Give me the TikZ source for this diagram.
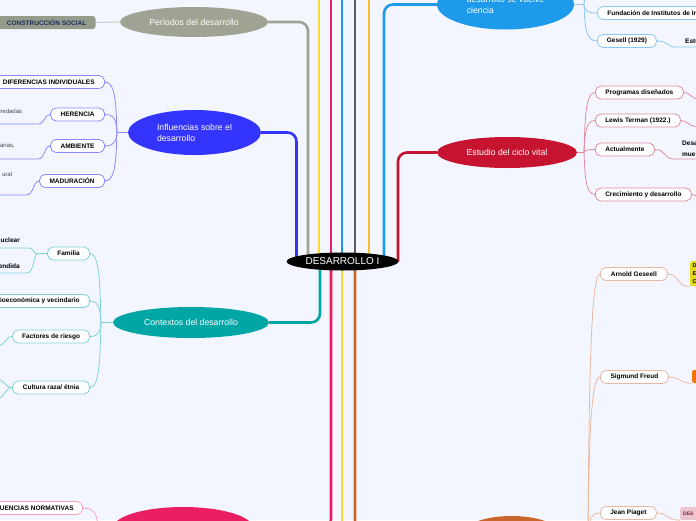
\documentclass[tikz,border=0pt]{standalone}
\usepackage{fontspec}
\setmainfont{Liberation Sans}
\usetikzlibrary{shapes.geometric,backgrounds}
\definecolor{bgc}{HTML}{F3F6FE}
\definecolor{cPer}{HTML}{9EA393}
\definecolor{cInf}{HTML}{3434FF}
\definecolor{cCon}{HTML}{00A6A6}
\definecolor{cEst}{HTML}{C6132F}
\definecolor{cTop}{HTML}{1D9BEA}
\definecolor{cPink}{HTML}{E91E63}
\definecolor{cBrown}{HTML}{C8662C}
\definecolor{cYel}{HTML}{FDD535}
\definecolor{cBlue}{HTML}{2196F3}
\definecolor{cDark}{HTML}{595E62}
\definecolor{cAmber}{HTML}{FBBD2E}
\definecolor{lInf}{HTML}{8A8AFF}
\definecolor{lCon}{HTML}{80D2D8}
\definecolor{lEst}{HTML}{E28CA0}
\definecolor{lTop}{HTML}{8CC8F2}
\definecolor{lBrown}{HTML}{E8B9A2}
\definecolor{lPink}{HTML}{F5A3C7}
\definecolor{lPer}{HTML}{C8CCC2}
\definecolor{cCons}{HTML}{959C8B}
\definecolor{tCons}{HTML}{1B2D5B}
\definecolor{cYbox}{HTML}{E3DC1E}
\definecolor{cObox}{HTML}{EF7300}
\definecolor{cDbox}{HTML}{EBC6CF}
\definecolor{tDbox}{HTML}{7A1E38}
\definecolor{tSub}{HTML}{444444}
\begin{document}
\begin{tikzpicture}[x=1pt,y=-1pt,
  ell/.style={ellipse, inner sep=0pt, text=white, font=\fontsize{8.7}{11}\selectfont},
  mbox/.style={draw, rounded corners=5.5pt, fill=white, line width=0.8pt, minimum height=13pt, inner xsep=9pt, inner ysep=0pt, font=\bfseries\fontsize{6.5}{7.5}\selectfont, text=black},
  trunk/.style={line width=2.6pt, rounded corners=9pt},
  link/.style={line width=0.8pt},
  subtxt/.style={inner sep=0pt, font=\fontsize{6}{7}\selectfont, text=tSub},
  boldtxt/.style={inner sep=0pt, font=\bfseries\fontsize{6.5}{10.5}\selectfont, text=black, align=left},
]
\useasboundingbox (0,0) rectangle (696,520);

% central
\node[ell, fill=black, minimum width=112pt, minimum height=18pt, font=\fontsize{10}{12}\selectfont] (c) at (342.5,261.5) {DESARROLLO I};

% Periodos
\node[ell, fill=cPer, minimum width=148pt, minimum height=30pt] (per) at (194,22) {Períodos del desarrollo};
\node[mbox, draw=none, fill=cCons, text=tCons, rounded corners=3pt, anchor=east, minimum width=98pt] (cons) at (96,22.5) {CONSTRUCCIÓN SOCIAL};

% Influencias
\node[ell, fill=cInf, minimum width=133pt, minimum height=45pt, align=left] (inf) at (194.5,132.5) {Influencias sobre el\\desarrollo};
\node[mbox, draw=lInf, anchor=east, inner xsep=10pt] (dif) at (105,82) {DIFERENCIAS INDIVIDUALES};
\node[mbox, draw=lInf, anchor=east, minimum width=54pt] (her) at (105,114.5) {HERENCIA};
\node[mbox, draw=lInf, anchor=east, minimum width=54pt] (amb) at (105,146) {AMBIENTE};
\node[mbox, draw=lInf, anchor=east, minimum width=65pt] (mad) at (105,181) {MADURACIÓN};
\node[subtxt, anchor=east] (her1) at (22.3,111) {redadas};
\node[subtxt, anchor=east] (amb1) at (15,146) {arias,};
\node[subtxt, anchor=east] (mad1) at (12.3,174) {ural};

% Contextos
\node[ell, fill=cCon, minimum width=156pt, minimum height=31pt] (con) at (191,322.5) {Contextos del desarrollo};
\node[mbox, draw=lCon, anchor=east, minimum width=42pt] (fam) at (90,253.5) {Familia};
\node[mbox, draw=lCon, anchor=east, inner xsep=10pt] (soc) at (90,301) {ioeconómica y vecindario};
\node[mbox, draw=lCon, anchor=east, minimum width=77pt] (fac) at (90,336.5) {Factores de riesgo};
\node[mbox, draw=lCon, anchor=east, minimum width=77pt] (cul) at (90,387.5) {Cultura raza/ étnia};
\node[boldtxt, anchor=east] (fam1) at (20,240) {uclear};
\node[boldtxt, anchor=east] (fam2) at (20,266.5) {endida};

% Estudio
\node[ell, fill=cEst, minimum width=140pt, minimum height=31pt] (est) at (507,152.5) {Estudio del ciclo vital};
\node[mbox, draw=lEst, anchor=west, minimum width=88pt] (prog) at (595,92.5) {Programas diseñados};
\node[mbox, draw=lEst, anchor=west, minimum width=85pt] (lew) at (595,120.5) {Lewis Terman (1922.)};
\node[mbox, draw=lEst, anchor=west, minimum width=59pt] (act) at (595,149.5) {Actualmente};
\node[mbox, draw=lEst, anchor=west, minimum width=96pt] (cre) at (595,194.5) {Crecimiento y desarrollo};
\node[boldtxt, anchor=west] (act1) at (682,149) {Desa\\mue};

% top blue
\node[ell, fill=cTop, minimum width=137pt, minimum height=50pt, align=left] (tb) at (505.5,4.5) {desarrollo se vuelve\\ciencia};
\node[mbox, draw=lTop, anchor=west, inner xsep=10pt] (fund) at (597,13) {Fundación de Institutos de In};
\node[mbox, draw=lTop, anchor=west, minimum width=59pt] (ges) at (597,41) {Gesell (1929)};
\node[boldtxt, anchor=west] (ges1) at (685,41) {Estu};

% brown
\node[ell, fill=cBrown, minimum width=97pt, minimum height=36pt] (br) at (511.5,534) {};
\node[mbox, draw=lBrown, anchor=west, minimum width=67pt] (arn) at (600,274) {Arnold Geseell};
\node[mbox, draw=lBrown, anchor=west, minimum width=68pt] (fre) at (600,377) {Sigmund Freud};
\node[mbox, draw=lBrown, anchor=west, minimum width=56pt] (pia) at (600,513) {Jean Piaget};
\node[fill=cYbox, rounded corners=2pt, anchor=north west, text width=30pt, align=left, inner sep=2.5pt, font=\bfseries\fontsize{5.5}{8}\selectfont] (ybox) at (690,261) {D\\E\\C};
\node[fill=cObox, rounded corners=2pt, anchor=west, minimum width=30pt, minimum height=13pt] (obox) at (692,376.5) {};
\node[fill=cDbox, rounded corners=2pt, anchor=west, text width=24pt, align=left, inner xsep=3pt, minimum height=13pt, font=\bfseries\fontsize{5}{6}\selectfont, text=tDbox] (dbox) at (680,513.5) {DES};

% pink
\node[ell, fill=cPink, minimum width=140pt, minimum height=42pt] (pk) at (183,528) {};
\node[mbox, draw=lPink, anchor=east, inner xsep=9pt] (nor) at (83,508) {UENCIAS NORMATIVAS};

% free ends
\coordinate (tY) at (319,-10);
\coordinate (tP) at (331,-10);
\coordinate (tB) at (342,-10);
\coordinate (tD) at (355,-10);
\coordinate (tA) at (369,-10);
\coordinate (bY) at (342,540);
\coordinate (infT) at (117,132.5);
\coordinate (her1u) at (38,124);
\coordinate (her1e) at (-5,124);
\coordinate (amb1u) at (38,159);
\coordinate (amb1e) at (-5,159);
\coordinate (mad1u) at (26,195);
\coordinate (mad1e) at (-5,195);
\coordinate (conT) at (101,322.5);
\coordinate (famJ) at (37,253.5);
\coordinate (fam1u) at (29,248);
\coordinate (fam1e) at (-5,248);
\coordinate (fam2u) at (27,273);
\coordinate (fam2e) at (-5,273);
\coordinate (fac1) at (-2,346);
\coordinate (cul1) at (-2,379);
\coordinate (cul2) at (-2,399);
\coordinate (estT) at (584,152.5);
\coordinate (prog1) at (700,99);
\coordinate (lew1) at (700,127);
\coordinate (act1u) at (674,159);
\coordinate (act1e) at (700,159);
\coordinate (cre1) at (702,201);
\coordinate (tbT) at (584,4.5);
\coordinate (tbup) at (598,-14);
\coordinate (ges1u) at (676,47);
\coordinate (ges1e) at (700,47);
\coordinate (brT) at (588,534);
\coordinate (pkT) at (98,528);

\begin{scope}[on background layer]
\fill[bgc] (0,0) rectangle (696,520);
% trunks
\draw[trunk, cInf] (inf.east) -| ([xshift=-46pt]c.center);
\draw[trunk, cPer] (per.east) -| ([xshift=-34.5pt]c.center);
\draw[trunk, cYel] (tY) -- ([xshift=-23.5pt]c.center);
\draw[trunk, cPink] (tP) -- ([xshift=-11.5pt]c.center);
\draw[trunk, cBlue] (tB) -- ([xshift=-0.5pt]c.center);
\draw[trunk, cDark] (tD) -- ([xshift=12.5pt]c.center);
\draw[trunk, cAmber] (tA) -- ([xshift=26.5pt]c.center);
\draw[trunk, cTop] (tb.west) -| ([xshift=41.5pt]c.center);
\draw[trunk, cEst] (est.west) -| ([xshift=55.5pt]c.center);
\draw[trunk, cCon] (con.east) -| ([xshift=-22.5pt]c.center);
\draw[trunk, cPink] (pk.east) -| ([xshift=-11.5pt]c.center);
\draw[trunk, cYel] (bY) -- ([xshift=-0.5pt]c.center);
\draw[trunk, cBrown] (br.west) -| ([xshift=12.5pt]c.center);
% periodos
\draw[link, lPer, line width=1pt] (per.west) -- (cons.east);
% influencias
\draw[link, lInf] (inf.west) -- (infT);
\draw[link, lInf] (infT) .. controls (116,107) and (116,82) .. (dif.east);
\draw[link, lInf] (infT) .. controls (116,123) and (116,114.5) .. (her.east);
\draw[link, lInf] (infT) .. controls (116,139) and (116,146) .. (amb.east);
\draw[link, lInf] (infT) .. controls (116,157) and (116,181) .. (mad.east);
\draw[link, lInf] (her.west) .. controls (44,114.5) and (45,124) .. (her1u) -- (her1e);
\draw[link, lInf] (amb.west) .. controls (44,146) and (45,159) .. (amb1u) -- (amb1e);
\draw[link, lInf] (mad.west) .. controls (33,181) and (34,195) .. (mad1u) -- (mad1e);
% contextos
\draw[link, lCon] (con.west) -- (conT);
\draw[link, lCon] (conT) .. controls (100,288) and (100,253.5) .. (fam.east);
\draw[link, lCon] (conT) .. controls (100,312) and (100,301) .. (soc.east);
\draw[link, lCon] (conT) .. controls (100,330) and (100,336.5) .. (fac.east);
\draw[link, lCon] (conT) .. controls (100,355) and (100,387.5) .. (cul.east);
\draw[link, lCon] (fam.west) -- (famJ) .. controls (33,253.5) and (34,248) .. (fam1u) -- (fam1e);
\draw[link, lCon] (famJ) .. controls (34,254) and (34,273) .. (fam2u) -- (fam2e);
\draw[link, lCon] (fac.west) .. controls (5,336.5) and (5,346) .. (fac1);
\draw[link, lCon] (cul.west) .. controls (5,387.5) and (4,380) .. (cul1);
\draw[link, lCon] (cul.west) .. controls (5,387.5) and (4,398) .. (cul2);
% estudio
\draw[link, lEst] (est.east) -- (estT);
\draw[link, lEst] (estT) .. controls (585,122) and (585,92.5) .. (prog.west);
\draw[link, lEst] (estT) .. controls (585,136) and (585,120.5) .. (lew.west);
\draw[link, lEst] (estT) .. controls (585,151) and (585,149.5) .. (act.west);
\draw[link, lEst] (estT) .. controls (585,173) and (585,194.5) .. (cre.west);
\draw[link, lEst] (prog.east) .. controls (691,92.5) and (690,99) .. (prog1);
\draw[link, lEst] (lew.east) .. controls (688,120.5) and (688,127) .. (lew1);
\draw[link, lEst] (act.east) .. controls (666,149.5) and (664,159) .. (act1u) -- (act1e);
\draw[link, lEst] (cre.east) .. controls (697,194.5) and (697,198) .. (cre1);
% top blue
\draw[link, lTop] (tb.east) -- (tbT);
\draw[link, lTop] (tbT) .. controls (585,9) and (585,13) .. (fund.west);
\draw[link, lTop] (tbT) .. controls (585,25) and (585,41) .. (ges.west);
\draw[link, lTop] (tbT) .. controls (585,-5) and (585,-14) .. (tbup);
\draw[link, lTop] (ges.east) .. controls (669,41) and (666,47) .. (ges1u) -- (ges1e);
% brown
\draw[link, lBrown] (br.east) -- (brT);
\draw[link, lBrown] (brT) .. controls (589,380) and (591,274) .. (arn.west);
\draw[link, lBrown] (brT) .. controls (589,440) and (591,377) .. (fre.west);
\draw[link, lBrown] (brT) .. controls (589,520) and (591,513) .. (pia.west);
\draw[link, lBrown] (arn.east) .. controls (680,274) and (677,288) .. (ybox.south west);
\draw[link, lBrown] (fre.east) .. controls (681,377) and (678,383) .. (obox.south west);
\draw[link, lBrown] (pia.east) .. controls (668,513) and (666,520) .. (dbox.south west);
% pink
\draw[link, lPink] (pk.west) -- (pkT) .. controls (97,518) and (97,508) .. (nor.east);
\end{scope}
\end{tikzpicture}
\end{document}
